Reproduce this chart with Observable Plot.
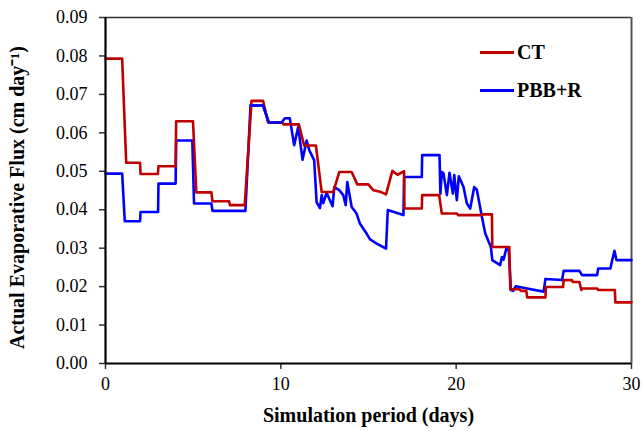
<!DOCTYPE html>
<html>
<head>
<meta charset="utf-8">
<script src="https://cdn.jsdelivr.net/npm/d3@7"></script>
<script src="https://cdn.jsdelivr.net/npm/@observablehq/plot@0.6"></script>
<style>
  html, body { margin: 0; padding: 0; background: #fff; }
  #wrap { position: relative; width: 644px; height: 431px; font-family: "Liberation Serif", "Times New Roman", serif; }
  #legend { position: absolute; left: 480px; top: 33px; font-weight: bold; font-size: 20px; color: #000; }
  #legend .row { display: flex; align-items: center; height: 38px; }
  #legend .sw { width: 34px; height: 3px; margin-right: 3px; }
</style>
</head>
<body>
<div id="wrap"></div>
<script>
// ---- data ----
const seriesNames = ["CT", "PBB+R"];
const seriesColors = ["#C00000", "#0000FF"];

const ctDays = [0,0.95,1.18,1.97,2.0,2.99,3.02,4.0,4.03,4.99,5.18,6.04,6.1,7.05,7.1,7.94,8.33,8.99,9.27,10.1,10.15,11.03,11.33,12.0,12.33,12.99,13.33,14.04,14.36,14.99,15.27,15.66,16.0,16.36,16.65,17.03,17.05,18.04,18.06,19.03,19.18,20.04,20.1,21.47,21.5,22.04,22.06,23.03,23.09,23.6,23.7,24.0,24.05,25.09,25.12,26.1,26.13,26.6,26.65,27.03,27.14,27.2,28.04,28.1,29.05,29.08,30];
const ctFlux = [0.0793,0.0793,0.0522,0.0522,0.0493,0.0493,0.0513,0.0513,0.063,0.063,0.0445,0.0445,0.0422,0.0422,0.0412,0.0412,0.0683,0.0683,0.0627,0.0627,0.0622,0.0622,0.0567,0.0567,0.0446,0.0446,0.0498,0.0498,0.0466,0.0466,0.0451,0.0447,0.044,0.0501,0.0491,0.050,0.0403,0.0403,0.0438,0.0438,0.039,0.039,0.0386,0.0386,0.0388,0.0388,0.0303,0.0303,0.0193,0.0193,0.0189,0.0189,0.0172,0.0172,0.0199,0.0199,0.0217,0.0217,0.0212,0.0212,0.0191,0.0195,0.0195,0.0191,0.0191,0.0159,0.0159];

const pbbDays = [0,0.95,1.1,1.97,2.0,3.0,3.02,4.0,4.03,4.95,5.05,6.04,6.1,7.98,8.27,8.99,9.31,10.04,10.23,10.51,10.76,10.99,11.24,11.47,11.62,11.9,12.04,12.23,12.33,12.42,12.61,12.95,13.05,13.33,13.56,13.7,13.79,14.04,14.32,14.51,14.89,15.09,15.47,16.0,16.1,16.99,17.03,18.04,18.06,19.05,19.1,19.18,19.28,19.47,19.62,19.81,19.89,20.04,20.15,20.42,20.61,20.8,21.03,21.18,21.47,21.66,21.98,22.06,22.51,22.61,22.7,22.86,23.0,23.12,23.25,23.4,24.04,24.99,25.09,26.04,26.13,27.03,27.18,28.04,28.1,28.8,28.9,29.03,29.14,30];
const pbbFlux = [0.0494,0.0494,0.037,0.037,0.0394,0.0394,0.0468,0.0468,0.058,0.058,0.0416,0.0416,0.0397,0.0397,0.0671,0.0671,0.0627,0.0627,0.0638,0.0638,0.0568,0.0615,0.053,0.058,0.0555,0.0529,0.042,0.0404,0.0438,0.0417,0.0444,0.0409,0.0459,0.0451,0.0438,0.0412,0.0472,0.0407,0.039,0.0364,0.0338,0.0323,0.0312,0.0299,0.0399,0.0386,0.0485,0.0485,0.0542,0.0542,0.0442,0.0498,0.0494,0.0438,0.0496,0.0442,0.049,0.0425,0.0487,0.0459,0.0416,0.0403,0.0459,0.0452,0.0381,0.0338,0.0303,0.0269,0.0256,0.0277,0.027,0.0299,0.0295,0.0191,0.0189,0.0201,0.0195,0.0187,0.022,0.0217,0.0241,0.0241,0.023,0.023,0.0247,0.0247,0.0269,0.0293,0.0269,0.0269];

const xTicks = [0, 10, 20, 30];
const yTicks = [0, 0.01, 0.02, 0.03, 0.04, 0.05, 0.06, 0.07, 0.08, 0.09];
const xDomain = [0, 30];
const yDomain = [0, 0.09];
const xLabel = "Simulation period (days)";
const yLabel = "Actual Evaporative Flux (cm day\u207B\u00B9)";

// ---- build tables ----
const ct = ctDays.map((d, i) => ({day: d, flux: ctFlux[i]}));
const pbb = pbbDays.map((d, i) => ({day: d, flux: pbbFlux[i]}));

const chart = Plot.plot({
  width: 644,
  height: 431,
  marginLeft: 105,
  marginRight: 13,
  marginTop: 17,
  marginBottom: 68,
  style: {fontFamily: "Liberation Serif, Times New Roman, serif", fontSize: "18px", color: "#000", background: "#fff"},
  x: {domain: xDomain},
  y: {domain: yDomain},
  marks: [
    Plot.axisX({ticks: xTicks, tickSize: 6, tickPadding: 8, tickFormat: d => String(d), fontSize: 18,
      label: xLabel, labelAnchor: "center", labelArrow: "none", labelOffset: 58, strokeWidth: 1.5, stroke: "#333"}),
    Plot.axisY({ticks: yTicks, tickSize: 6, tickPadding: 12, tickFormat: d3.format(".2f"), fontSize: 18,
      label: yLabel, labelAnchor: "center", labelArrow: "none", labelOffset: 96, strokeWidth: 1.5, stroke: "#333"}),
    Plot.ruleY([yDomain[1]], {stroke: "#333", strokeWidth: 1.3}),
    Plot.ruleX([xDomain[1]], {stroke: "#555", strokeWidth: 2}),
    Plot.line(pbb, {x: "day", y: "flux", stroke: seriesColors[1], strokeWidth: 2.6}),
    Plot.line(ct, {x: "day", y: "flux", stroke: seriesColors[0], strokeWidth: 2.6}),
    Plot.line(pbb, {x: "day", y: "flux", stroke: seriesColors[1], strokeWidth: 2.6, filter: d => d.day >= 8 && d.day <= 10.2}),
    Plot.ruleX([xDomain[0]], {stroke: "#000", strokeWidth: 2.2}),
    Plot.ruleY([yDomain[0]], {stroke: "#000", strokeWidth: 2.2})
  ]
});

// bold axis labels
d3.select(chart).selectAll("g[aria-label='x-axis label'] text, g[aria-label='y-axis label'] text")
  .style("font-weight", "bold").style("font-size", "20px");
// nudge the y-axis label slightly downward, as in the reference
d3.select(chart).selectAll("g[aria-label='y-axis label']").each(function() {
  const t = this.getAttribute("transform") || "";
  this.setAttribute("transform", "translate(0,7) " + t);
});

const wrap = document.getElementById("wrap");
wrap.appendChild(chart);

const legend = document.createElement("div");
legend.id = "legend";
legend.innerHTML = seriesNames.map((n, i) =>
  `<div class="row"><div class="sw" style="background:${seriesColors[i]}"></div><span>${n}</span></div>`).join("");
wrap.appendChild(legend);
</script>
</body>
</html>
